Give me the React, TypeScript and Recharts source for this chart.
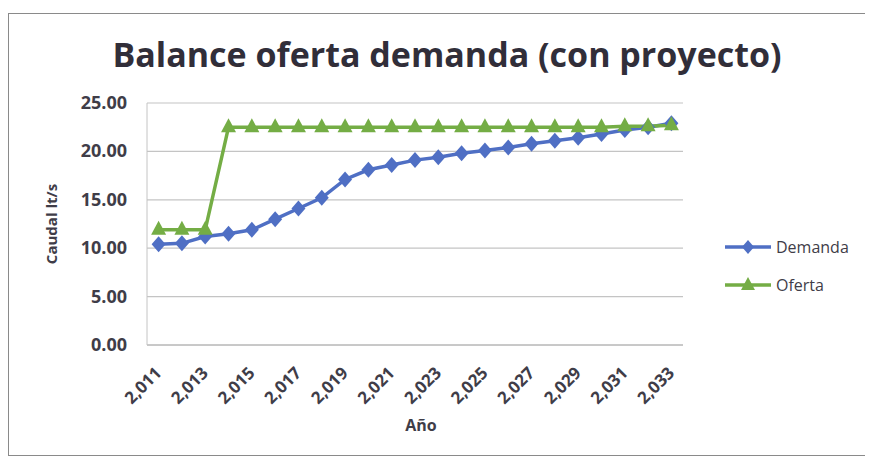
import React from "react";
import { LineChart, Line, XAxis, YAxis, CartesianGrid, Legend } from "recharts";

const years = ["2,011","2,012","2,013","2,014","2,015","2,016","2,017","2,018","2,019","2,020","2,021","2,022","2,023","2,024","2,025","2,026","2,027","2,028","2,029","2,030","2,031","2,032","2,033"];
const demanda = [10.4, 10.5, 11.2, 11.5, 11.9, 13.0, 14.1, 15.2, 17.1, 18.1, 18.6, 19.1, 19.4, 19.8, 20.1, 20.4, 20.8, 21.1, 21.4, 21.8, 22.2, 22.5, 22.9];
const oferta = [11.9, 11.9, 11.9, 22.5, 22.5, 22.5, 22.5, 22.5, 22.5, 22.5, 22.5, 22.5, 22.5, 22.5, 22.5, 22.5, 22.5, 22.5, 22.5, 22.5, 22.6, 22.6, 22.7];
const yTicks = [0, 5, 10, 15, 20, 25];

const data = years.map((y, i) => ({ year: y, Demanda: demanda[i], Oferta: oferta[i] }));

const BLUE = "#4f6fc4";
const GREEN = "#74ad45";
const TEXT = "#3f3d48";
const FONT = "'Open Sans', sans-serif";

const Diamond = (props: any) => {
  const { cx, cy, index } = props;
  if (cx == null || cy == null) return <g key={"d" + index} />;
  return (
    <path key={"d" + index} d={`M${cx},${cy - 8} L${cx + 7},${cy} L${cx},${cy + 8} L${cx - 7},${cy} Z`} fill={BLUE} />
  );
};

const Triangle = (props: any) => {
  const { cx, cy, index } = props;
  if (cx == null || cy == null) return <g key={"t" + index} />;
  return (
    <path key={"t" + index} d={`M${cx},${cy - 9} L${cx + 7.5},${cy + 5} L${cx - 7.5},${cy + 5} Z`} fill={GREEN} />
  );
};

const XTick = (props: any) => {
  const { x, y, payload } = props;
  return (
    <text
      x={x + 4}
      y={y + 21}
      transform={`rotate(-45, ${x + 4}, ${y + 21})`}
      textAnchor="end"
      fill={TEXT}
      fontFamily={FONT}
      fontWeight={700}
      fontSize={17}
    >
      {payload.value}
    </text>
  );
};

const YTick = (props: any) => {
  const { x, y, payload } = props;
  return (
    <text x={x} y={y} dy={6} textAnchor="end" fill={TEXT} fontFamily={FONT} fontWeight={700} fontSize={18}>
      {Number(payload.value).toFixed(2)}
    </text>
  );
};

const YLabel = (props: any) => {
  const { viewBox } = props;
  const cx = 42;
  const cy = viewBox.y + viewBox.height / 2;
  return (
    <text x={cx} y={cy} transform={`rotate(-90, ${cx}, ${cy})`} textAnchor="middle" dominantBaseline="central" fill={TEXT} fontFamily={FONT} fontWeight={700} fontSize={15}>
      Caudal lt/s
    </text>
  );
};

const XLabel = (props: any) => {
  const { viewBox } = props;
  const cx = viewBox.x + viewBox.width / 2 + 6;
  return (
    <text x={cx} y={411} textAnchor="middle" dominantBaseline="central" fill={TEXT} fontFamily={FONT} fontWeight={700} fontSize={16}>
      Año
    </text>
  );
};

const LegendContent = () => {
  const items = [
    { name: "Demanda", color: BLUE, shape: "d" },
    { name: "Oferta", color: GREEN, shape: "t" },
  ];
  return (
    <div style={{ fontFamily: FONT, color: TEXT, fontSize: 16 }}>
      {items.map((it) => (
        <div key={it.name} style={{ display: "flex", alignItems: "center", height: 38 }}>
          <svg width={48} height={20} style={{ display: "block" }}>
            <line x1={1} y1={10} x2={47} y2={10} stroke={it.color} strokeWidth={3.5} />
            {it.shape === "d" ? (
              <path d="M24,3 L30,10 L24,17 L18,10 Z" fill={it.color} />
            ) : (
              <path d="M24,2 L31,15 L17,15 Z" fill={it.color} />
            )}
          </svg>
          <span style={{ marginLeft: 4 }}>{it.name}</span>
        </div>
      ))}
    </div>
  );
};

export default function App() {
  return (
    <div
      style={{
        position: "relative",
        marginTop: 5,
        width: 864,
        height: 441,
        borderTop: "1px solid #8a8a8a",
        borderLeft: "1px solid #8a8a8a",
        borderBottom: "1px solid #8a8a8a",
        background: "#fff",
      }}
    >
      <div
        style={{
          position: "absolute",
          left: 0,
          width: 876,
          top: 17,
          textAlign: "center",
          fontFamily: FONT,
          fontWeight: 700,
          fontSize: 34,
          color: "#312e39",
          whiteSpace: "nowrap",
        }}
      >
        Balance oferta demanda (con proyecto)
      </div>
      <LineChart width={864} height={441} data={data} margin={{ top: 89, right: 190, bottom: 20, left: 0 }}>
        <CartesianGrid vertical={false} stroke="#c4c4c4" strokeWidth={1.2} />
        <XAxis
          dataKey="year"
          interval={1}
          tick={<XTick />}
          tickLine={false}
          axisLine={{ stroke: "#b0b0b0" }}
          height={90}
          padding={{ left: 11.6, right: 11.6 }}
          label={<XLabel />}
        />
        <YAxis
          domain={[0, 25]}
          ticks={yTicks}
          width={138}
          tick={<YTick />}
          tickLine={false}
          tickSize={0}
          tickMargin={20}
          axisLine={{ stroke: "#c4c4c4" }}
          label={<YLabel />}
        />
        <Legend
          layout="horizontal"
          verticalAlign="middle"
          align="center"
          content={<LegendContent />}
          wrapperStyle={{ left: 715, top: 214, width: 150 }}
        />
        <Line
          type="linear"
          dataKey="Demanda"
          stroke={BLUE}
          strokeWidth={3.5}
          dot={Diamond}
          activeDot={false}
          isAnimationActive={false}
        />
        <Line
          type="linear"
          dataKey="Oferta"
          stroke={GREEN}
          strokeWidth={3.5}
          dot={Triangle}
          activeDot={false}
          isAnimationActive={false}
        />
      </LineChart>
    </div>
  );
}
